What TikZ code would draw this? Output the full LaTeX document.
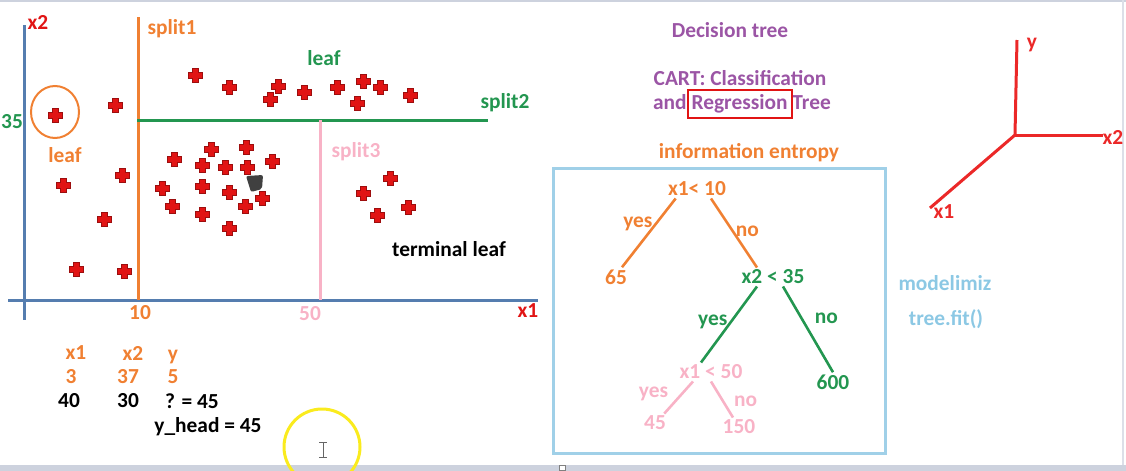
\documentclass[tikz,border=0pt]{standalone}
\usepackage{fontspec}
\setmainfont{Carlito}
\usepackage{tikz}
\usetikzlibrary{positioning}
\usepackage{xcolor}
\definecolor{axiscolor}{RGB}{85,125,175}
\definecolor{splitorange}{RGB}{240,128,50}
\definecolor{splitgreen}{RGB}{35,150,80}
\definecolor{splitpink}{RGB}{248,178,198}
\definecolor{crossred}{RGB}{225,20,20}
\definecolor{titlepurple}{RGB}{155,85,165}
\definecolor{boxblue}{RGB}{160,208,232}
\definecolor{modelblue}{RGB}{140,200,228}
\definecolor{axisred}{RGB}{235,40,40}
\definecolor{cursoryellow}{RGB}{250,235,30}
\definecolor{framegray}{RGB}{205,210,222}

\begin{document}
\begin{tikzpicture}[x=0.5pt, y=-0.5pt,
    every node/.style={font=\bfseries\fontsize{10.7}{12}\selectfont, inner sep=1pt},
    plusmark/.style={fill=crossred, draw=crossred!70!black, line width=0.3pt},
    treeline/.style={line width=1.3pt}]
        \useasboundingbox (0,0) rectangle (1126,471);

        % screen frame
        \draw[framegray, line width=1pt] (0,1) -- (1126,1);
        \draw[framegray!70, line width=0.6pt] (1123,0) -- (1123,465);
        \fill[framegray] (0,465) rectangle (1126,471);
        \draw[gray, fill=white, line width=0.4pt] (559,465) rectangle (565,470);

        % feature space axes
        \draw[axiscolor, line width=1.5pt] (24,25) -- (24,320);
        \draw[axiscolor, line width=1.5pt] (8,300) -- (538,300);
        \node[crossred] (x2ax) at (38,22) {x2};
        \node[crossred] (x1ax) at (528,311) {x1};
        \node[splitgreen] (tick35) at (12,122) {35};

        % splits
        \draw[splitorange, line width=1.5pt] (138,17) -- (138,300);
        \draw[splitgreen, line width=1.5pt] (137,120) -- (488,120);
        \draw[splitpink, line width=1.5pt] (320,120) -- (320,300);
        \node[splitorange] (s1lab) at (172,29) {split1};
        \node[splitgreen] (s2lab) at (505,103) {split2};
        \node[splitpink] (s3lab) at (356,152) {split3};
        \node[splitorange] (tick10) at (140,313) {10};
        \node[splitpink] (tick50) at (310,314) {50};

        % leaves
        \node[splitgreen] (leaftop) at (324,58) {leaf};
        \node[splitorange] (leafleft) at (65,155) {leaf};
        \node[black] (termleaf) at (449,249) {terminal leaf};
        \draw[splitorange, line width=1pt] (55,112) ellipse (24 and 26);

        % data points
        \foreach \px/\py in {55/115, 115/105, 63/185, 122/175, 104/219, 76/269, 124/271,
                             195/75, 229/87, 270/99, 278/86, 304/92, 337/87, 363/81, 380/87, 357/103, 410/95,
                             174/159, 211/149, 246/147, 202/165, 225/167, 247/167, 272/161,
                             162/188, 202/186, 229/192, 172/206, 202/214, 245/206, 229/228,
                             390/178, 363/193, 408/207, 377/215} {
          \filldraw[plusmark, shift={(\px,\py)}]
            (-2.8,-7) -- (2.8,-7) -- (2.8,-2.8) -- (7,-2.8) -- (7,2.8) -- (2.8,2.8)
            -- (2.8,7) -- (-2.8,7) -- (-2.8,2.8) -- (-7,2.8) -- (-7,-2.8) -- (-2.8,-2.8) -- cycle;
        }
        \fill[black!75, rounded corners=1pt] (246,176) -- (263,175) -- (262,189) -- (251,192) -- cycle;
        \filldraw[plusmark, shift={(262,198)}]
            (-2.8,-7) -- (2.8,-7) -- (2.8,-2.8) -- (7,-2.8) -- (7,2.8) -- (2.8,2.8)
            -- (2.8,7) -- (-2.8,7) -- (-2.8,2.8) -- (-7,2.8) -- (-7,-2.8) -- (-2.8,-2.8) -- cycle;

        % sample table
        \node[splitorange] (hx1) at (76,353) {x1};
        \node[splitorange] (hx2) at (133,353) {x2};
        \node[splitorange] (hy) at (173,357) {y};
        \node[splitorange] (r1a) at (71,377) {3};
        \node[splitorange] (r1b) at (128,377) {37};
        \node[splitorange] (r1c) at (173,377) {5};
        \node (r2a) at (69,401) {40};
        \node (r2b) at (128,401) {30};
        \node (r2c) at (192,401) {? = 45};
        \node (yhead) at (208,427) {y\_head = 45};

        % cursor highlight
        \draw[cursoryellow, line width=1.5pt] (322,447) circle (38);
        \draw[black!60, line width=0.5pt] (323,442) -- (323,457)
          (319,442) -- (327,442) (319,457) -- (327,457);

        % titles
        \node[titlepurple] (dtitle) at (730,30) {Decision tree};
        \node[titlepurple] (cart1) at (740,78) {CART: Classification};
        \node[titlepurple] (cart2) at (742,104) {and Regression Tree};
        \draw[crossred, line width=1pt] (688,90) rectangle (792,118);
        \node[splitorange] (entropy) at (749,153) {information entropy};

        % tree
        \draw[boxblue, line width=1.5pt] (553,168) rectangle (885,453);
        \node[splitorange] (root) at (697,189) {x1< 10};
        \node[splitorange] (n65) at (616,277) {65};
        \node[splitgreen] (n2) at (773,277) {x2 < 35};
        \node[splitgreen] (n600) at (833,382) {600};
        \node[splitpink] (n3) at (711,372) {x1 < 50};
        \node[splitpink] (n45) at (655,423) {45};
        \node[splitpink] (n150) at (739,427) {150};

        \draw[treeline, splitorange] ([xshift=5pt]root.south west) -- ([xshift=3pt]n65.north)
          node[pos=.37, left] {yes};
        \draw[treeline, splitorange] ([xshift=7pt]root.south) -- ([xshift=-8pt]n2.north)
          node[pos=.47, right] {no};
        \draw[treeline, splitgreen] ([xshift=-8pt]n2.south) -- ([xshift=-5pt]n3.north)
          node[pos=.47, left] {yes};
        \draw[treeline, splitgreen] ([xshift=5pt]n2.south) -- (n600.north)
          node[pos=.37, right=5pt] {no};
        \draw[treeline, splitpink] ([xshift=-9pt]n3.south) -- ([xshift=-2pt]n45.north east)
          node[pos=.4, left=5pt] {yes};
        \draw[treeline, splitpink] (n3.south) -- ([xshift=-3pt]n150.north)
          node[pos=.54, right=4pt] {no};

        \node[modelblue] (modelimiz) at (945,283) {modelimiz};
        \node[modelblue] (treefit) at (946,319) {tree.fit()};

        % 3d axes
        \coordinate (o) at (1015,135);
        \coordinate (yend) at (1017,40);
        \coordinate (x2end) at (1103,135);
        \coordinate (x1end) at (930,208);
        \draw[axisred, line width=1.5pt] (o) -- (yend);
        \draw[axisred, line width=1.5pt] (o) -- (x2end);
        \draw[axisred, line width=1.5pt] (o) -- (x1end);
        \node[axisred] (ylab) at (1032,45) {y};
        \node[axisred] (x2lab) at (1113,137) {x2};
        \node[axisred] (x1lab) at (944,212) {x1};
      \end{tikzpicture}
\end{document}
